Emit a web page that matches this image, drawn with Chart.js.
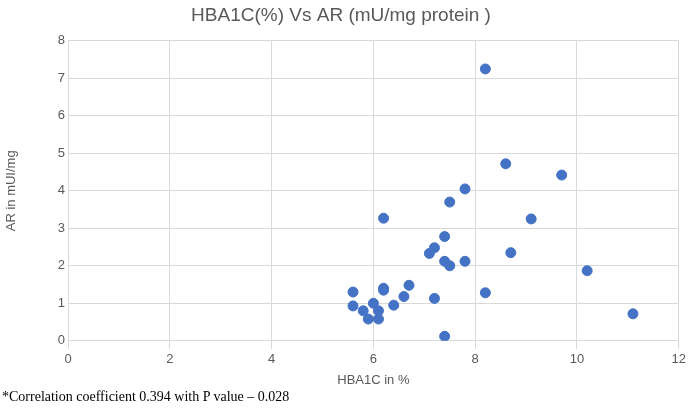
<!DOCTYPE html>
<html><head><meta charset="utf-8">
<script src="https://cdn.jsdelivr.net/npm/chart.js@4/dist/chart.umd.min.js"></script>
<style>
body{margin:0;background:#fff;}
#wrap{position:absolute;left:0;top:0;width:689px;height:390px;}
#note{position:absolute;left:2px;top:389px;font-family:"Liberation Serif",serif;font-size:14px;color:#000;}
</style></head><body>
<div id="wrap"><canvas id="c"></canvas></div>
<div id="note">*Correlation coefficient 0.394 with P value – 0.028</div>
<script>
const hba1c = [8.2,8.6,9.7,7.8,7.5,6.2,9.1,7.4,7.2,7.1,8.7,7.4,7.8,7.5,10.2,6.7,6.2,6.2,5.6,8.2,6.6,7.2,6.0,6.4,5.6,5.8,6.1,5.9,6.1,11.1,7.4];
const arValues = [7.25,4.72,4.42,4.05,3.7,3.27,3.25,2.78,2.48,2.33,2.35,2.12,2.12,2.0,1.87,1.48,1.4,1.35,1.3,1.28,1.18,1.13,1.0,0.95,0.93,0.8,0.8,0.58,0.58,0.72,0.12];

const points = hba1c.map((x, i) => ({x: x, y: arValues[i]}));
const grey = "#595959";
const font = {family: "'Liberation Sans', Arial, sans-serif", size: 13};

new Chart(document.getElementById("c"), {
  type: "scatter",
  data: {datasets: [{data: points, backgroundColor: "#4472C4", borderColor: "#4472C4", pointRadius: 5}]},
  options: {
    responsive: true,
    maintainAspectRatio: false,
    animation: false,
    layout: {padding: {left: 0, right: 7, top: 0, bottom: 0}},
    plugins: {
      legend: {display: false},
      tooltip: {enabled: false},
      title: {display: true, text: "HBA1C(%) Vs AR (mU/mg protein )", color: grey,
        font: {family: font.family, size: 19, weight: "normal"}, padding: {top: 4, bottom: 14}}
    },
    scales: {
      x: {min: 0, max: 12,
        ticks: {stepSize: 2, color: grey, font: font},
        grid: {color: "#d9d9d9"}, border: {color: "#d9d9d9"},
        title: {display: true, text: "HBA1C in %", color: grey, font: font, padding: 2}},
      y: {min: 0, max: 8,
        ticks: {stepSize: 1, color: grey, font: font},
        grid: {color: "#d9d9d9", drawTicks: false}, border: {display: false},
        afterFit: s => { s.width = 68; },
        title: {display: true, text: "AR in mUI/mg", color: grey, font: font}}
    }
  }
});
</script>
</body></html>
